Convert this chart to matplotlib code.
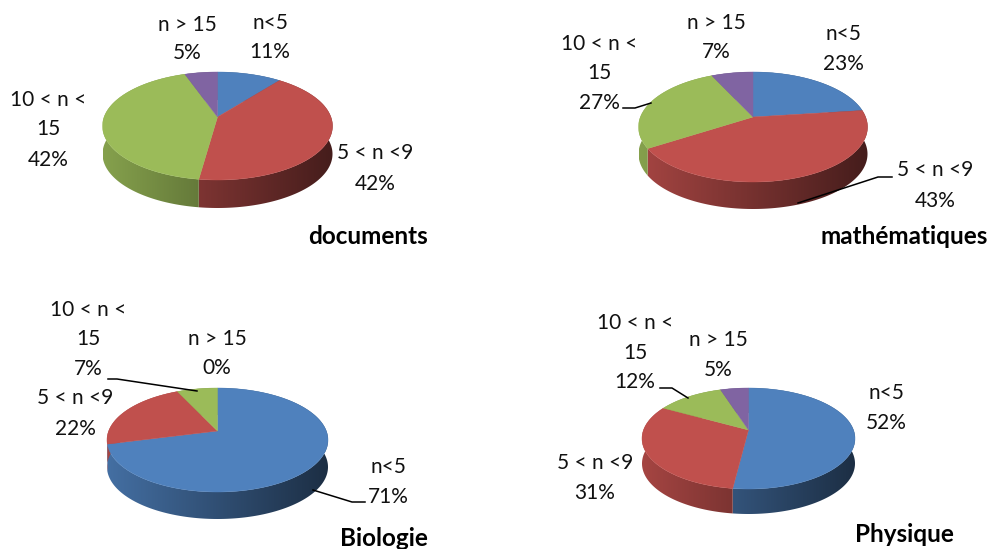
import numpy as np
import matplotlib
matplotlib.use("Agg")
import matplotlib.pyplot as plt
from matplotlib.patches import Polygon
from matplotlib.colors import to_rgb

# share of each class, in percent
categories = ["n<5", "5 < n <9", "10 < n < 15", "n > 15"]
documents = [10.6, 41.6, 42.4, 5.4]
mathematiques = [23, 43, 27, 7]
biologie = [71, 22, 7, 0]
physique = [52, 31, 12, 5]

colors = ["#4f81bd", "#c0504d", "#9bbb59", "#8064a2"]
plt.rcParams["font.family"] = ["Lato", "DejaVu Sans"]
FS = 15
FS_TITLE = 17.5


def project(t, cx, cy, a, up, down):
    # circle seen in perspective, t clockwise from 12 o'clock
    k = (down - up) / (down + up)
    b = up * (1 + k)
    a2 = a * np.sqrt(1 - k * k)
    X, Y = np.sin(t), np.cos(t)
    return cx + a2 * X / (1 + k * Y), cy - b * Y / (1 + k * Y)


def pie3d(ax, values, cx, cy, a, up, down, depth):
    edges = np.cumsum([0] + list(values)) / sum(values) * 2 * np.pi
    shade = np.linspace(0.86, 0.36, 256)[None, :, None]
    for i in range(len(values)):
        if values[i] == 0:
            continue
        t = np.linspace(edges[i], edges[i + 1], 200)
        x, y = project(t, cx, cy, a, up, down)
        # side wall, a horizontal gradient cut to the slice's outer strip
        wall = Polygon(np.c_[np.r_[x, x[::-1]], np.r_[y, y[::-1] + depth]],
                       transform=ax.transData, fc="none", ec="none")
        ax.add_patch(wall)
        img = ax.imshow(np.array(to_rgb(colors[i]))[None, None, :] * shade,
                        extent=[cx - a, cx + a, cy + down + depth, cy - up],
                        aspect="auto", interpolation="bilinear", zorder=0)
        img.set_clip_path(wall)
    for i in range(len(values)):
        if values[i] == 0:
            continue
        t = np.linspace(edges[i], edges[i + 1], 200)
        x, y = project(t, cx, cy, a, up, down)
        ax.fill(np.r_[cx, x], np.r_[cy, y], color=colors[i], lw=0.3, zorder=1)


def label(ax, cx, lines, ys):
    for s, y in zip(lines, ys):
        ax.text(cx, y, s, ha="center", va="center", fontsize=FS, color="#111111")


fig = plt.figure(figsize=(9.93, 5.49), dpi=100)
ax = fig.add_axes([0, 0, 1, 1])

pie3d(ax, documents, 217.5, 117, 115, 45, 63, 28)
pie3d(ax, mathematiques, 753, 117, 114.5, 45, 65, 27)
pie3d(ax, biologie, 217.5, 431, 110.5, 43, 61, 27)
pie3d(ax, physique, 748.5, 430, 106.5, 42, 59, 25)

ax.set_xlim(0, 993)
ax.set_ylim(549, 0)
ax.axis("off")

pct = lambda v: "%.0f%%" % v

# documents
label(ax, 270, [categories[0], pct(documents[0])], [23, 52])
label(ax, 375, [categories[1], pct(documents[1])], [153, 184])
label(ax, 48, ["10 < n <", "15", pct(documents[2])], [100, 129, 160])
label(ax, 187, [categories[3], pct(documents[3])], [25, 53])
# mathematiques
label(ax, 843, [categories[0], pct(mathematiques[0])], [34, 64])
label(ax, 935, [categories[1], pct(mathematiques[1])], [170, 201])
label(ax, 599, ["10 < n <", "15", pct(mathematiques[2])], [44, 73, 103])
label(ax, 716, [categories[3], pct(mathematiques[3])], [23, 52])
# biologie
label(ax, 388, [categories[0], pct(biologie[0])], [467, 497])
label(ax, 75, [categories[1], pct(biologie[1])], [398, 429])
label(ax, 88, ["10 < n <", "15", pct(biologie[2])], [310, 339, 369])
label(ax, 217, [categories[3], pct(biologie[3])], [339, 368])
# physique
label(ax, 886, [categories[0], pct(physique[0])], [393, 423])
label(ax, 595, [categories[1], pct(physique[1])], [463, 493])
label(ax, 635, ["10 < n <", "15", pct(physique[2])], [323, 353, 382])
label(ax, 718, [categories[3], pct(physique[3])], [340, 370])

# leader lines
for xs, ys in [([623, 635, 651], [108, 108, 103]),
               ([892, 878, 798], [177, 177, 203]),
               ([108, 117, 197], [379, 379, 391]),
               ([313, 352, 365], [490, 502, 502]),
               ([660, 672, 688], [388, 388, 398])]:
    ax.plot(xs, ys, color="black", lw=1.1, zorder=2)

# titles
for s, x, y in [("documents", 368, 236), ("mathématiques", 904, 237),
                ("Biologie", 384, 539), ("Physique", 904, 535)]:
    ax.text(x, y, s, ha="center", va="center", fontsize=FS_TITLE,
            fontweight="bold", color="black")

fig.savefig("out.png", dpi=100)
